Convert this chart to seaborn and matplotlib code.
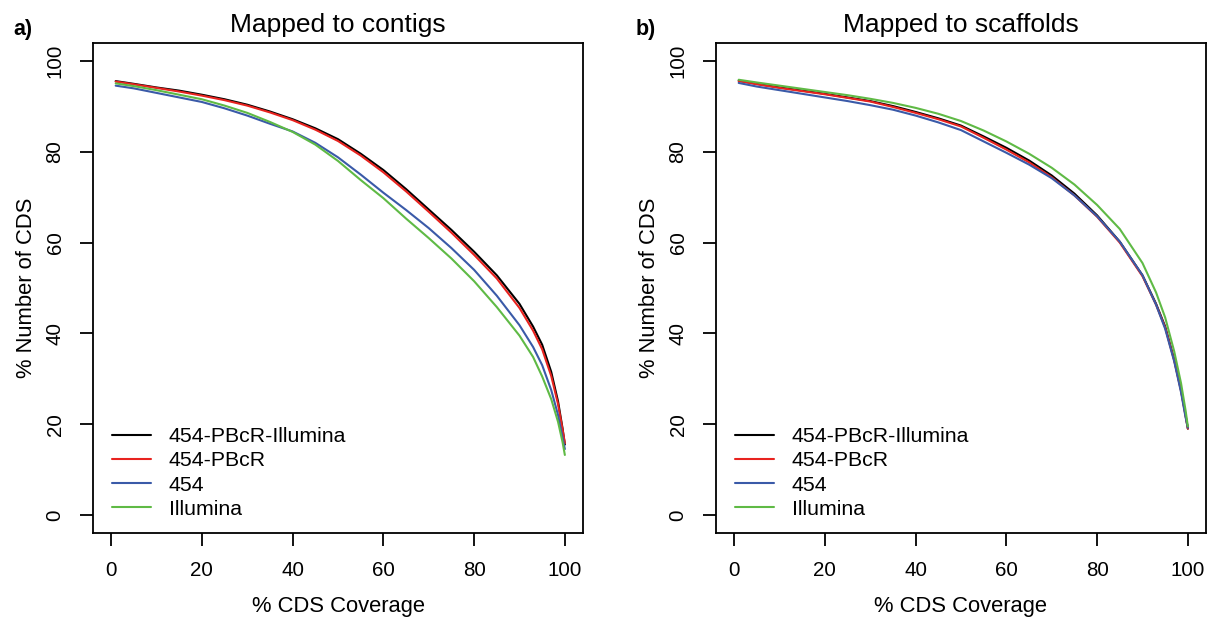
import numpy as np
import pandas as pd
import matplotlib
matplotlib.use("Agg")
import matplotlib.pyplot as plt
import seaborn as sns

# ---------------- data ----------------
series_names = ["454-PBcR-Illumina", "454-PBcR", "454", "Illumina"]
series_colors = ["#000000", "#e8231f", "#3a5aa8", "#5fba45"]

coverage = [1, 5, 10, 15, 20, 25, 30, 35, 40, 45, 50, 55, 60, 65, 70, 75,
            80, 85, 90, 93, 95, 97, 98.5, 99.5, 100]

# Panel a) Mapped to contigs
contigs_pbcr_illumina = [95.6, 95.0, 94.2, 93.5, 92.6, 91.6, 90.4, 88.9, 87.2, 85.2, 82.8, 79.6, 76.0,
                         71.8, 67.3, 62.8, 58.0, 52.8, 46.5, 41.5, 37.5, 31.5, 25.0, 19.0, 15.5]
contigs_pbcr = [95.5, 94.9, 94.1, 93.3, 92.4, 91.4, 90.2, 88.7, 87.0, 84.9, 82.4, 79.2, 75.5,
                71.3, 66.8, 62.2, 57.3, 52.1, 45.6, 40.6, 36.5, 30.6, 24.4, 18.8, 15.8]
contigs_454 = [94.6, 94.0, 93.0, 92.0, 91.0, 89.6, 88.0, 86.2, 84.5, 82.0, 78.8, 75.0, 71.0,
               67.2, 63.2, 58.8, 54.0, 48.3, 41.8, 37.0, 33.0, 27.5, 22.0, 17.0, 14.5]
contigs_illumina = [95.1, 94.5, 93.6, 92.6, 91.6, 90.2, 88.6, 86.6, 84.4, 81.6, 78.0, 73.8, 69.8,
                    65.3, 61.0, 56.5, 51.5, 45.8, 39.5, 34.8, 30.5, 25.5, 20.5, 16.0, 13.2]

# Panel b) Mapped to scaffolds
scaffolds_pbcr_illumina = [95.7, 95.0, 94.2, 93.5, 92.8, 92.0, 91.2, 90.1, 88.8, 87.4, 85.8, 83.4, 80.9,
                           78.1, 74.8, 70.8, 66.0, 60.2, 52.8, 46.5, 41.5, 34.2, 27.5, 22.0, 19.0]
scaffolds_pbcr = [95.6, 94.9, 94.1, 93.4, 92.7, 91.9, 91.1, 89.9, 88.6, 87.2, 85.6, 83.1, 80.5,
                  77.7, 74.4, 70.4, 65.7, 60.0, 52.6, 46.3, 41.3, 34.0, 27.3, 21.8, 19.0]
scaffolds_454 = [95.2, 94.4, 93.6, 92.8, 92.0, 91.2, 90.3, 89.3, 88.0, 86.5, 84.8, 82.3, 79.8,
                 77.2, 74.2, 70.4, 65.8, 60.2, 52.8, 46.3, 41.0, 33.8, 27.0, 21.5, 19.2]
scaffolds_illumina = [95.9, 95.3, 94.6, 93.9, 93.2, 92.5, 91.7, 90.8, 89.7, 88.4, 86.8, 84.7, 82.3,
                      79.6, 76.5, 72.8, 68.3, 63.0, 55.5, 49.0, 43.5, 36.0, 29.0, 23.0, 19.5]

panel_titles = ["Mapped to contigs", "Mapped to scaffolds"]
panel_tags = ["a)", "b)"]
xlabel = "% CDS Coverage"
ylabel = "% Number of CDS"
ticks = [0, 20, 40, 60, 80, 100]

panels = [
    [contigs_pbcr_illumina, contigs_pbcr, contigs_454, contigs_illumina],
    [scaffolds_pbcr_illumina, scaffolds_pbcr, scaffolds_454, scaffolds_illumina],
]

# ---------------- style ----------------
sns.set_theme(style="white")
plt.rcParams["font.family"] = ["Liberation Sans", "DejaVu Sans"]
plt.rcParams["axes.edgecolor"] = "black"
plt.rcParams["axes.linewidth"] = 1.3
plt.rcParams["text.color"] = "black"
plt.rcParams["axes.labelcolor"] = "black"
plt.rcParams["axes.titlecolor"] = "black"
plt.rcParams["xtick.color"] = "black"
plt.rcParams["ytick.color"] = "black"
plt.rcParams["xtick.labelcolor"] = "black"
plt.rcParams["ytick.labelcolor"] = "black"

fig = plt.figure(figsize=(12.11, 6.20), dpi=100)
W, H = 1211, 620
boxes = [(93, 43, 583, 533), (716, 43, 1206, 533)]
palette = dict(zip(series_names, series_colors))

for i, (vals, (l, t, r, b)) in enumerate(zip(panels, boxes)):
    ax = fig.add_axes([l / W, 1 - b / H, (r - l) / W, (b - t) / H])
    frames = []
    for name, v in zip(series_names, vals):
        frames.append(pd.DataFrame({"cov": coverage, "pct": v, "series": name}))
    df = pd.concat(frames, ignore_index=True)
    sns.lineplot(data=df, x="cov", y="pct", hue="series", hue_order=series_names,
                 palette=palette, ax=ax, linewidth=1.5, sort=False)
    ax.set_xlim(-4, 104)
    ax.set_ylim(-4, 104)
    ax.set_xticks(ticks)
    ax.set_yticks(ticks)
    ax.tick_params(axis="both", which="both", direction="out", length=9.5, width=1.3,
                   color="black", labelcolor="black", labelsize=14.8, pad=11,
                   bottom=True, left=True)
    for lab in ax.get_yticklabels():
        lab.set_rotation(90)
        lab.set_va("center")
    ax.set_xlabel(xlabel, fontsize=15.8, labelpad=11, color="black")
    ax.set_ylabel(ylabel, fontsize=15.8, labelpad=6, color="black")
    ax.set_title(panel_titles[i], fontsize=19, pad=8, color="black")
    for s in ax.spines.values():
        s.set_visible(True)
        s.set_color("black")
        s.set_linewidth(1.3)
    handles, labels = ax.get_legend_handles_labels()
    ax.legend(handles=handles, labels=labels, loc="lower left",
              bbox_to_anchor=(0.022, 0.012), frameon=False, fontsize=15.3,
              handlelength=1.8, handletextpad=0.85, labelspacing=0.24,
              borderaxespad=0, labelcolor="black")
    fig.text((l - 80) / W, 1 - 30 / H, panel_tags[i], fontsize=15.5,
             fontweight="bold", ha="left", va="center", color="black")

fig.savefig("out.png", dpi=100, facecolor="white")
